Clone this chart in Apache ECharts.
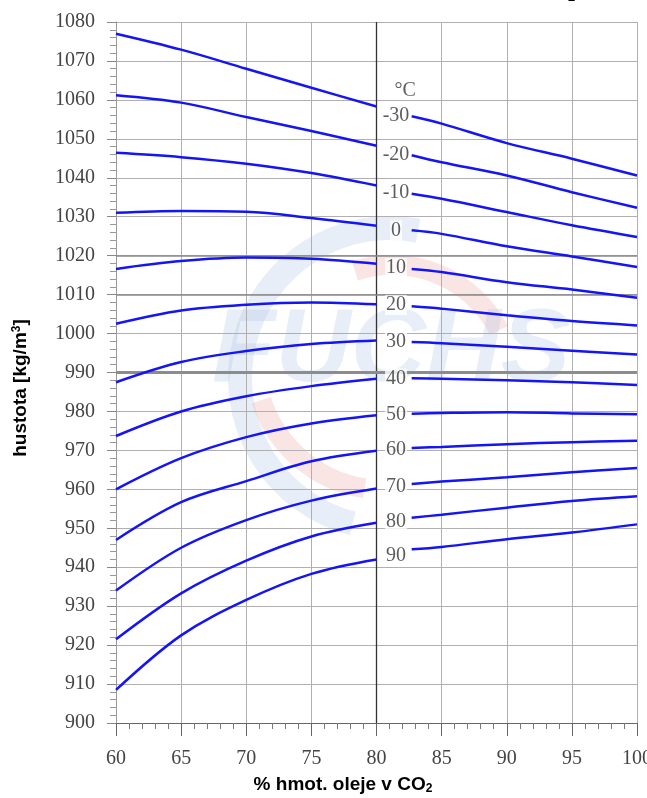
<!DOCTYPE html>
<html>
<head>
<meta charset="utf-8">
<script src="https://cdn.jsdelivr.net/npm/echarts@6/dist/echarts.min.js"></script>
<style>
html,body{margin:0;padding:0;background:#fff;overflow:hidden;}
#c{width:647px;height:798px;}
</style>
</head>
<body>
<div id="c"></div>
<script>
// ---- data ----
const temps = ['-30','-20','-10','0','10','20','30','40','50','60','70','80','90'];
const xLeft = [60, 65, 70, 75, 80];
const xRight = [82.7, 85, 90, 95, 100];
const yLeft = [
  [1077.0, 1072.9, 1068.0, 1063.1, 1058.3],
  [1061.2, 1059.3, 1055.6, 1052.0, 1048.2],
  [1046.4, 1045.3, 1043.6, 1041.2, 1038.0],
  [1031.0, 1031.5, 1031.3, 1029.7, 1027.7],
  [1016.6, 1018.6, 1019.5, 1019.2, 1017.9],
  [1002.5, 1005.9, 1007.4, 1008.0, 1007.5],
  [987.5, 992.7, 995.5, 997.3, 998.2],
  [973.7, 980.0, 983.9, 986.5, 988.4],
  [960.0, 968.0, 973.4, 976.9, 979.0],
  [947.0, 956.7, 962.1, 967.2, 969.9],
  [934.0, 945.0, 952.1, 957.1, 960.2],
  [921.5, 933.3, 941.7, 947.9, 951.4],
  [908.5, 922.5, 931.6, 938.3, 942.0]
];
const yRight = [
  [1055.8, 1053.9, 1048.9, 1044.9, 1040.6],
  [1045.8, 1044.0, 1040.6, 1036.3, 1032.3],
  [1035.9, 1034.6, 1031.2, 1027.8, 1024.8],
  [1026.5, 1025.6, 1022.4, 1019.8, 1017.1],
  [1016.6, 1015.8, 1013.2, 1011.3, 1009.2],
  [1007.0, 1006.4, 1004.7, 1003.2, 1002.1],
  [997.8, 997.5, 996.6, 995.6, 994.6],
  [988.5, 988.4, 988.0, 987.5, 986.8],
  [979.4, 979.6, 979.8, 979.5, 979.3],
  [970.6, 970.9, 971.6, 972.1, 972.5],
  [961.4, 962.0, 963.1, 964.4, 965.5],
  [952.7, 953.5, 955.3, 957.0, 958.2],
  [944.6, 945.2, 947.2, 948.9, 951.0]
];
const labelX = 81.5;
const labelY = [1055.8, 1045.8, 1036.1, 1026.5, 1016.8, 1007.3, 998.0, 988.5, 979.2, 970.2, 960.6, 951.8, 943.0];
const unitLabel = '°C';
const unitPos = [82.2, 1062.3];
const xTicks = {min: 60, max: 100, step: 5};
const yTicks = {min: 900, max: 1080, step: 10};
const strongY = [1020, 1010];
const thickY = [990];
const strongX = [80];

// ---- build ----
const chart = echarts.init(document.getElementById('c'), null, {renderer: 'canvas', width: 647, height: 798});
const blue = '#1414f5';
const series = [];
temps.forEach((t, i) => {
  series.push({
    type: 'line', name: t + 'L', data: xLeft.map((x, k) => [x, yLeft[i][k]]),
    smooth: 0.35, showSymbol: false, symbol: 'none', z: 5,
    lineStyle: {color: blue, width: 2.5}
  });
  series.push({
    type: 'line', name: t + 'R', data: xRight.map((x, k) => [x, yRight[i][k]]),
    smooth: 0.35, showSymbol: false, symbol: 'none', z: 5,
    lineStyle: {color: blue, width: 2.5}
  });
});
// reference lines
series.push({
  type: 'line', data: [], z: 3, silent: true,
  markLine: {
    silent: true, symbol: 'none', animation: false, label: {show: false},
    data: [
      ...strongX.map(v => ({xAxis: v, lineStyle: {color: '#333', width: 1.3, type: 'solid'}})),
      ...strongY.map(v => ({yAxis: v, lineStyle: {color: '#8a8a8a', width: 1.6, type: 'solid'}})),
      ...thickY.map(v => ({yAxis: v, lineStyle: {color: '#8c8c8c', width: 3.2, type: 'solid'}}))
    ]
  }
});
// temperature labels
series.push({
  type: 'scatter', z: 6, symbolSize: 1, itemStyle: {color: 'rgba(0,0,0,0)'},
  data: labelY.map(y => [labelX, y]),
  label: {
    show: true, position: 'inside',
    formatter: p => temps[p.dataIndex],
    fontFamily: 'Liberation Serif', fontSize: 20, color: '#333',
    backgroundColor: '#fff', padding: [0, 1]
  }
});
series.push({
  type: 'scatter', z: 6, symbolSize: 1, itemStyle: {color: 'rgba(0,0,0,0)'},
  data: [unitPos],
  label: {show: true, position: 'inside', formatter: unitLabel,
    fontFamily: 'Liberation Serif', fontSize: 20, color: '#333'}
});

const axisFont = {fontFamily: 'Liberation Serif', fontSize: 20, color: '#444'};

chart.setOption({
  animation: false,
  backgroundColor: '#fff',
  grid: {left: 116, right: 10, top: 22, bottom: 75, containLabel: false, outerBoundsMode: 'none'},
  xAxis: {
    type: 'value', min: xTicks.min, max: xTicks.max, interval: xTicks.step,
    axisLine: {show: true, onZero: false, lineStyle: {color: '#666', width: 1.2}},
    axisTick: {show: true, inside: false, length: 13, lineStyle: {color: '#666'}},
    minorTick: {show: true, splitNumber: 5, length: 6, lineStyle: {color: '#777'}},
    splitLine: {show: true, lineStyle: {color: '#b0b0b0', width: 1}},
    axisLabel: Object.assign({margin: 26, formatter: v => String(v)}, axisFont)
  },
  yAxis: {
    type: 'value', min: yTicks.min, max: yTicks.max, interval: yTicks.step,
    axisLine: {show: true, lineStyle: {color: '#999', width: 1}},
    axisTick: {show: true, inside: false, length: 9, lineStyle: {color: '#888'}},
    minorTick: {show: true, splitNumber: 5, length: 6, lineStyle: {color: '#999'}},
    splitLine: {show: true, lineStyle: {color: '#b0b0b0', width: 1}},
    axisLabel: Object.assign({margin: 21, formatter: v => String(v)}, axisFont)
  },
  graphic: [
    // faint watermark logo
    {type: 'arc', z: 0, silent: true,
      shape: {cx: 390, cy: 378, r: 150, startAngle: Math.PI * 0.58, endAngle: Math.PI * 1.56, clockwise: true},
      style: {stroke: 'rgba(175,198,228,0.3)', lineWidth: 24, fill: 'none'}},
    {type: 'arc', z: 0, silent: true,
      shape: {cx: 392, cy: 385, r: 120, startAngle: -Math.PI * 0.6, endAngle: -Math.PI * 0.15, clockwise: true},
      style: {stroke: 'rgba(240,170,170,0.3)', lineWidth: 20, fill: 'none'}},
    {type: 'arc', z: 0, silent: true,
      shape: {cx: 385, cy: 360, r: 130, startAngle: Math.PI * 0.55, endAngle: Math.PI * 0.9, clockwise: true},
      style: {stroke: 'rgba(240,170,170,0.3)', lineWidth: 20, fill: 'none'}},
    {type: 'text', z: 0, silent: true, left: 212, top: 300,
      style: {text: 'FUCHS', font: 'italic bold 104px "Liberation Sans"', fill: 'rgba(175,198,228,0.3)'}},
    // axis titles
    {type: 'text', z: 10, x: 343, y: 785,
      style: {
        text: '% hmot. oleje v CO{sub|2}', align: 'center', verticalAlign: 'middle',
        font: 'bold 19px "Liberation Sans"', fill: '#000',
        rich: {sub: {font: 'bold 12px "Liberation Sans"', fill: '#000', verticalAlign: 'bottom', padding: [8, 0, 0, 0]}}
      }},
    {type: 'text', z: 10, rotation: Math.PI / 2, x: 21, y: 388,
      style: {
        text: 'hustota [kg/m{sup|3}]', align: 'center', verticalAlign: 'middle',
        font: 'bold 19px "Liberation Sans"', fill: '#000',
        rich: {sup: {font: 'bold 12px "Liberation Sans"', fill: '#000', verticalAlign: 'top', padding: [0, 0, 8, 0]}}
      }},
    // cropped title remnant at top
    {type: 'text', z: 10, x: 568, y: -9,
      style: {text: '2', font: 'bold 13px "Liberation Sans"', fill: '#000'}}
  ],
  series: series
});
</script>
</body>
</html>
